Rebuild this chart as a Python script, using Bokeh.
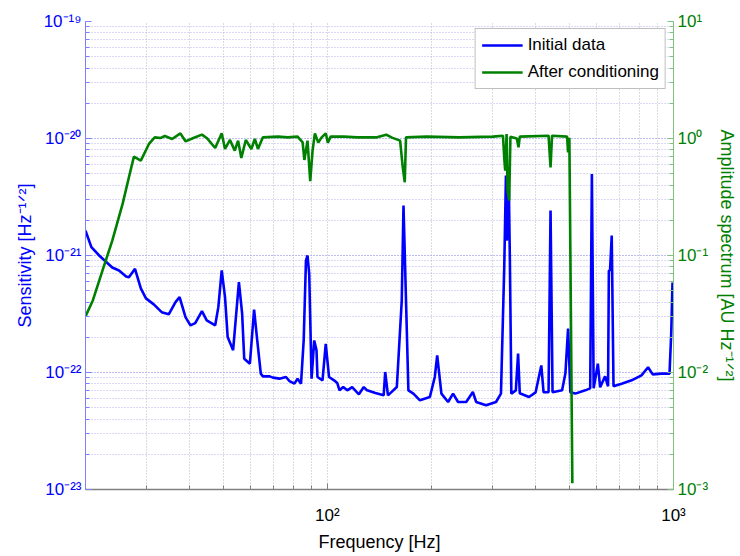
from bokeh.plotting import figure
from bokeh.models import (Range1d, LogAxis, LogScale, LogTicker, FixedTicker,
                          CustomJSTickFormatter, Legend, LegendItem)
from bokeh.embed import file_html
from bokeh.resources import INLINE

# ---------------- data ----------------
freq_initial = [20.0, 20.8, 21.9, 23.9, 25.0, 26.2, 26.7, 27.8, 28.9, 29.9,
                31.5, 33.2, 34.8, 36.4, 37.4, 38.9, 40.2, 41.5, 43.4, 44.8,
                47.4, 48.4, 49.5, 50.6, 51.5, 53.4, 55.5, 56.7, 57.5, 59.7,
                61.4, 62.7, 64.2, 65.1, 68.1, 69.6, 72.7, 75.9, 77.7, 80.3,
                82.0, 83.9, 85.4, 86.7, 87.6, 88.6, 90.0, 91.6, 93.0, 93.6,
                96.8, 98.9, 101.1, 104.5, 106.8, 108.4, 111.1, 114.1, 117.9, 123.3,
                127.4, 130.2, 137.6, 145.4, 146.9, 149.6, 158.7, 164.0, 165.9, 168.7,
                171.4, 177.2, 185.1, 197.7, 204.3, 207.6, 213.5, 223.2, 230.7, 238.5,
                251.8, 263.2, 269.0, 287.4, 307.0, 317.3, 324.3, 328.0, 330.1, 333.8,
                336.7, 340.0, 350.3, 355.6, 359.6, 382.3, 399.6, 415.0, 421.3, 435.5,
                441.3, 447.2, 476.6, 487.2, 495.9, 503.5, 520.4, 555.9, 574.5, 581.0,
                587.9, 604.5, 613.8, 634.3, 647.0, 650.5, 655.6, 663.0, 670.9, 708.2,
                756.8, 808.1, 844.3, 870.7, 922.1, 973.9, 984.9, 993.4]
sens_initial = [1.63e-21, 1.18e-21, 1.00e-21, 7.90e-22, 7.45e-22, 6.62e-22, 6.53e-22, 7.70e-22, 5.23e-22, 4.30e-22,
                3.82e-22, 3.28e-22, 3.14e-22, 4.00e-22, 4.41e-22, 2.97e-22, 2.53e-22, 2.64e-22, 3.35e-22, 2.79e-22,
                2.53e-22, 3.62e-22, 7.45e-22, 4.41e-22, 2.01e-22, 1.55e-22, 5.92e-22, 3.20e-22, 1.31e-22, 1.19e-22,
                3.44e-22, 1.88e-22, 9.78e-23, 9.27e-23, 9.27e-23, 9.04e-23, 8.86e-23, 9.15e-23, 8.45e-23, 8.03e-23,
                8.86e-23, 8.03e-23, 1.88e-22, 9.06e-22, 1.00e-21, 6.98e-22, 8.86e-23, 1.88e-22, 1.55e-22, 9.15e-23,
                8.57e-23, 1.76e-22, 9.15e-23, 8.57e-23, 8.13e-23, 7.04e-23, 7.51e-23, 7.04e-23, 7.51e-23, 6.51e-23,
                7.51e-23, 7.04e-23, 6.68e-23, 6.38e-23, 1.01e-22, 6.38e-23, 7.51e-23, 4.13e-22, 2.67e-21, 4.13e-22,
                7.04e-23, 6.60e-23, 5.78e-23, 6.17e-23, 9.15e-23, 1.40e-22, 6.60e-23, 5.60e-23, 6.60e-23, 5.60e-23,
                5.60e-23, 6.81e-23, 5.60e-23, 5.24e-23, 5.60e-23, 6.60e-23, 7.95e-22, 4.82e-21, 1.34e-21, 5.53e-21,
                9.06e-22, 6.60e-23, 7.04e-23, 1.45e-22, 6.64e-23, 6.17e-23, 6.77e-23, 1.15e-22, 6.77e-23, 6.77e-23,
                2.42e-21, 6.77e-23, 7.04e-23, 9.83e-23, 2.37e-22, 6.77e-23, 6.60e-23, 7.04e-23, 7.32e-23, 4.98e-21,
                7.32e-23, 1.19e-22, 7.47e-23, 9.27e-23, 7.62e-23, 7.45e-22, 7.45e-22, 1.48e-21, 7.62e-23, 8.03e-23,
                8.57e-23, 9.46e-23, 1.11e-22, 9.64e-23, 9.78e-23, 9.78e-23, 2.15e-22, 5.88e-22]

freq_cond = [20.0, 21.0, 22.4, 23.9, 25.6, 26.7, 27.6, 28.9, 30.5, 31.7,
             33.0, 33.9, 35.6, 37.6, 38.9, 41.0, 43.4, 44.8, 47.4, 49.5,
             50.6, 52.3, 54.0, 55.2, 56.4, 58.1, 60.3, 61.7, 63.0, 65.1,
             71.9, 76.8, 82.0, 84.8, 85.8, 87.6, 89.2, 90.6, 92.0, 94.1,
             96.1, 98.9, 100.3, 102.2, 111.6, 121.9, 139.1, 147.9, 153.6, 162.2,
             165.1, 167.3, 168.7, 193.4, 240.5, 301.0, 321.5, 324.7, 326.4, 329.4,
             331.6, 335.1, 337.9, 352.6, 356.6, 359.6, 435.5, 441.3, 445.7, 492.7,
             495.9, 500.2, 510.2]
amp_cond = [0.0302, 0.0413, 0.0745, 0.134, 0.276, 0.466, 0.700, 0.647, 0.898, 1.023,
            1.011, 1.051, 0.991, 1.107, 0.946, 1.011, 1.079, 1.011, 0.830, 1.107,
            0.814, 0.972, 0.788, 0.959, 0.682, 0.972, 0.814, 0.991, 0.814, 1.023,
            1.037, 1.023, 1.037, 0.927, 0.656, 0.959, 0.431, 0.788, 1.107, 0.922,
            1.017, 1.107, 0.922, 1.037, 1.037, 1.023, 1.023, 1.079, 1.017, 0.959,
            0.567, 0.422, 1.023, 1.037, 1.023, 1.037, 1.057, 0.647, 0.532, 1.093,
            0.359, 0.295, 1.037, 1.000, 0.840, 1.037, 1.057, 0.567, 1.057, 1.037,
            0.762, 1.017, 0.00113]

x_limits = (20, 1000)
left_limits = (1e-23, 1e-19)
right_limits = (1e-3, 1e1)
x_major_ticks = [100, 1000]
x_minor_ticks = [20, 30, 40, 50, 60, 70, 80, 90, 200, 300, 400, 500, 600, 700, 800, 900]

BLUE = "#0000ff"
GREEN = "#008000"
FONT = "Liberation Sans"

pow10 = """
const sup = {"-": "\u207b", "0": "\u2070", "1": "\u00b9", "2": "\u00b2", "3": "\u00b3",
             "4": "\u2074", "5": "\u2075", "6": "\u2076", "7": "\u2077", "8": "\u2078", "9": "\u2079"};
const e = Math.round(Math.log10(tick));
return "10" + String(e).split("").map(c => sup[c]).join("");
"""

p = figure(width=740, height=556, x_axis_type="log", y_axis_type="log",
           x_range=Range1d(*x_limits), y_range=Range1d(*left_limits),
           output_backend="svg", toolbar_location=None,
           min_border_left=85, min_border_right=61, min_border_top=21,
           min_border_bottom=67)
p.outline_line_color = None
p.background_fill_color = "white"
p.border_fill_color = "white"

p.extra_y_ranges = {"amp": Range1d(*right_limits)}
p.extra_y_scales = {"amp": LogScale()}

xt = FixedTicker(ticks=x_major_ticks, minor_ticks=x_minor_ticks)
yt = LogTicker(mantissas=[1], num_minor_ticks=10)
rt = LogTicker(mantissas=[1], num_minor_ticks=10)

# left axis
lax = p.yaxis[0]
lax.ticker = yt
lax.formatter = CustomJSTickFormatter(code=pow10)
lax.axis_line_color = "#8080ff"
lax.major_tick_line_color = "#8080ff"
lax.minor_tick_line_color = "#8080ff"
lax.major_label_text_color = BLUE
lax.major_label_standoff = 4
lax.axis_label = "Sensitivity [Hz\u207b\u00b9\u141f\u00b2]"
lax.axis_label_text_color = BLUE
lax.axis_label_standoff = 6

# bottom axis
bax = p.xaxis[0]
bax.ticker = xt
bax.formatter = CustomJSTickFormatter(code=pow10)
bax.axis_line_color = "#808080"
bax.axis_line_width = 1.5
bax.major_tick_line_color = "#808080"
bax.minor_tick_line_color = "#808080"
bax.major_label_text_color = "black"
bax.major_label_standoff = 16
bax.axis_label = "Frequency [Hz]"
bax.axis_label_text_color = "black"
bax.axis_label_standoff = 4

# right axis
rax = LogAxis(y_range_name="amp", ticker=rt, formatter=CustomJSTickFormatter(code=pow10))
rax.axis_line_color = "#80c080"
rax.major_tick_line_color = "#80c080"
rax.minor_tick_line_color = "#80c080"
rax.major_label_text_color = GREEN
rax.major_label_standoff = 4
rax.axis_label = "Amplitude spectrum [AU Hz\u207b\u00b9\u141f\u00b2]"
rax.axis_label_text_color = GREEN
rax.axis_label_standoff = 6
p.add_layout(rax, "right")

for ax in (lax, bax, rax):
    ax.major_tick_in = 6
    ax.major_tick_out = 0
    ax.minor_tick_in = 4
    ax.minor_tick_out = 0
    ax.major_label_text_font = FONT
    ax.major_label_text_font_size = "17px"
    ax.axis_label_text_font = FONT
    ax.axis_label_text_font_size = "18px"
    ax.axis_label_text_font_style = "normal"

p.ygrid.ticker = yt
p.xgrid.ticker = xt
p.ygrid.grid_line_color = "#b4b4f0"
p.ygrid.grid_line_dash = "1 2"
p.ygrid.minor_grid_line_color = "#b4b4f0"
p.ygrid.minor_grid_line_dash = "1 2"
p.xgrid.grid_line_color = "#b8b8b8"
p.xgrid.grid_line_dash = "1 2"
p.xgrid.minor_grid_line_color = "#b8b8b8"
p.xgrid.minor_grid_line_dash = "1 2"

r1 = p.line(freq_initial, sens_initial, line_color=BLUE, line_width=2.6)
r2 = p.line(freq_cond, amp_cond, line_color=GREEN, line_width=2.6, y_range_name="amp")

legend = Legend(items=[LegendItem(label="Initial data", renderers=[r1]),
                       LegendItem(label="After conditioning", renderers=[r2])],
                location="top_right")
legend.margin = 7
legend.padding = 6
legend.spacing = 7
legend.label_height = 20
legend.glyph_height = 20
legend.glyph_width = 41
legend.label_standoff = 5
legend.label_text_font_size = "17px"
legend.label_text_font = FONT
legend.label_text_color = "black"
legend.border_line_color = "#808080"
legend.background_fill_alpha = 1.0
p.add_layout(legend)

open("out.html", "w", encoding="utf-8").write(file_html(p, INLINE))
